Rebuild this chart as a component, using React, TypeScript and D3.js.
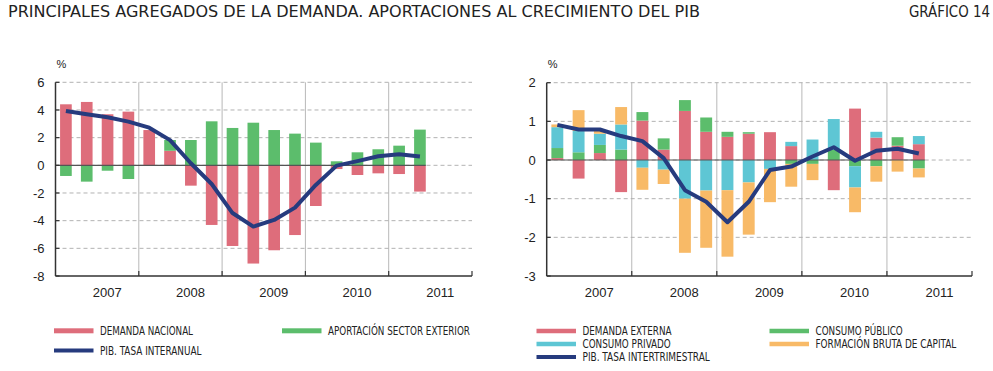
import React from "react";
import * as d3 from "d3";

const quarters = [
  "2007T1","2007T2","2007T3","2007T4",
  "2008T1","2008T2","2008T3","2008T4",
  "2009T1","2009T2","2009T3","2009T4",
  "2010T1","2010T2","2010T3","2010T4",
  "2011T1","2011T2",
];
const years = ["2007", "2008", "2009", "2010", "2011"];

// Left chart
const demandaNacional = [4.41, 4.58, 3.69, 3.88, 2.55, 1.05, -1.47, -4.31, -5.83, -7.1, -6.14, -5.04, -2.94, -0.27, -0.7, -0.58, -0.63, -1.9];
const aportacionExterior = [-0.77, -1.18, -0.39, -0.99, 0, 0.78, 1.83, 3.18, 2.7, 3.08, 2.55, 2.29, 1.64, 0.29, 0.94, 1.16, 1.42, 2.58];
const pibInteranual = [3.93, 3.69, 3.47, 3.16, 2.72, 1.82, 0.15, -1.35, -3.45, -4.43, -3.95, -3.06, -1.42, -0.02, 0.3, 0.65, 0.8, 0.63];
const leftTicks = [6, 4, 2, 0, -2, -4, -6, -8];

// Right chart
const demandaExterna = [0.05, -0.48, 0.18, -0.83, 1.02, 0.27, 1.27, 0.73, 0.6, 0.68, 0.72, 0.36, 0, -0.78, 1.33, 0.58, 0.37, 0.41];
const consumoPublico = [0.26, 0.2, 0.21, 0.27, 0.22, 0.29, 0.28, 0.37, 0.13, 0.04, 0, -0.1, -0.1, 0.26, -0.16, -0.16, 0.22, -0.22];
const consumoPrivado = [0.54, 0.55, 0.29, 0.65, -0.2, -0.25, -1.0, -0.79, -0.78, -0.58, -0.23, 0.11, 0.53, 0.8, -0.55, 0.15, 0, 0.21];
const formacionBruta = [0.07, 0.54, 0.07, 0.45, -0.57, -0.37, -1.4, -1.48, -1.72, -1.35, -0.86, -0.59, -0.42, 0, -0.64, -0.4, -0.3, -0.23];
const pibIntertrimestral = [0.91, 0.79, 0.79, 0.62, 0.49, 0.05, -0.78, -1.08, -1.61, -1.08, -0.26, -0.17, 0.09, 0.33, -0.02, 0.24, 0.29, 0.17];
const rightTicks = [2, 1, 0, -1, -2, -3];

const RED = "#de6d7b";
const GREEN = "#5cbd6c";
const CYAN = "#5ec6d4";
const ORANGE = "#f8ba67";
const NAVY = "#263b7e";
const GRID = "#a9a9a9";
const AXIS = "#333";
const SEP = "#b8b8b8";
const TXT = "#222";
const COND = "'Liberation Sans Narrow', 'DejaVu Sans Condensed', 'Liberation Sans', Arial, sans-serif";
const SANS = "'Liberation Sans', Arial, sans-serif";

type Series = { key: string; color: string; values: number[] };

function Panel(props: {
  x0: number; x1: number; yTop: number; yBot: number;
  domain: [number, number]; ticks: number[];
  series: Series[]; line: number[];
}) {
  const { x0, x1, yTop, yBot, domain, ticks, series, line } = props;
  const x = d3.scaleLinear().domain([0, years.length * 4]).range([x0, x1]);
  const y = d3.scaleLinear().domain(domain).range([yBot, yTop]);
  const slot = x(1) - x(0);
  const bw = slot * 0.56;

  const rows = quarters.map((q, i) => {
    const r: any = { q };
    series.forEach((s) => (r[s.key] = s.values[i]));
    return r;
  });
  const stacked = d3
    .stack<any>()
    .keys(series.map((s) => s.key))
    .offset(d3.stackOffsetDiverging)(rows);

  const lineGen = d3
    .line<number>()
    .x((_, i) => x(i + 0.5))
    .y((d) => y(d))
    .curve(d3.curveLinear);

  const lastRight = x(quarters.length - 0.5) + bw / 2;

  return (
    <g>
      {/* year separators */}
      {d3.range(1, years.length).map((k) => (
        <line key={"sep" + k} x1={x(k * 4)} x2={x(k * 4)} y1={yTop} y2={yBot} stroke={SEP} strokeWidth={1} />
      ))}
      {/* gridlines */}
      {ticks.filter((t) => t !== domain[0]).map((t) => (
        <line key={"g" + t} x1={x0} x2={x1} y1={y(t)} y2={y(t)} stroke={GRID} strokeWidth={0.9} strokeDasharray="4,3" />
      ))}
      {/* bars */}
      {stacked.map((layer, li) =>
        layer.map((d, i) => {
          const top = y(d[1]);
          const bot = y(d[0]);
          const h = Math.abs(bot - top);
          if (h < 0.01) return null;
          return (
            <rect key={li + "-" + i} x={x(i + 0.5) - bw / 2} y={Math.min(top, bot)} width={bw} height={h} fill={series[li].color} />
          );
        })
      )}
      {/* zero line */}
      <line x1={x0} x2={lastRight} y1={y(0)} y2={y(0)} stroke="#555" strokeWidth={1.2} />
      {/* axes */}
      <line x1={x0} x2={x0} y1={yTop} y2={yBot} stroke={AXIS} strokeWidth={1.5} />
      <line x1={x0} x2={x1} y1={yBot} y2={yBot} stroke={AXIS} strokeWidth={1.5} />
      {ticks.map((t) => (
        <line key={"yt" + t} x1={x0} x2={x0 + 4} y1={y(t)} y2={y(t)} stroke={AXIS} strokeWidth={1.2} />
      ))}
      {d3.range(1, years.length + 1).map((k) => (
        <line key={"xt" + k} x1={x(k * 4)} x2={x(k * 4)} y1={yBot - 5} y2={yBot} stroke={AXIS} strokeWidth={1.2} />
      ))}
      {/* y labels */}
      {ticks.map((t) => (
        <text key={"yl" + t} x={x0 - 11} y={y(t)} dy="0.35em" textAnchor="end" fontFamily={SANS} fontSize={13} fill={TXT}>
          {t}
        </text>
      ))}
      <text x={x0 + 1} y={68} fontFamily={SANS} fontSize={11} fill={TXT}>%</text>
      {/* x labels */}
      {years.map((yr, k) => (
        <text key={yr} x={x(k * 4 + 2) + 10} y={yBot + 21} textAnchor="middle" fontFamily={SANS} fontSize={13} fill={TXT}>
          {yr}
        </text>
      ))}
      {/* PIB line */}
      <path d={lineGen(line) || ""} fill="none" stroke={NAVY} strokeWidth={4} strokeLinejoin="round" strokeLinecap="butt" />
    </g>
  );
}

function LegendItem(props: { x: number; y: number; color: string; h: number; label: string; len: number; fs: number }) {
  const { x, y, color, h, label, len, fs } = props;
  return (
    <g>
      <rect x={x} y={y - h / 2} width={39.5} height={h} fill={color} />
      <text x={x + 46} y={y} dy="0.35em" fontFamily={COND} fontSize={fs} fill={TXT} textLength={len} lengthAdjust="spacingAndGlyphs">
        {label}
      </text>
    </g>
  );
}

export default function App() {
  return (
    <svg width={993} height={371} style={{ position: "absolute", left: 0, top: 0, background: "#fff" }} fontFamily={SANS}>
      <rect x={0} y={0} width={993} height={371} fill="#fff" />
      <text x={8} y={17.3} fontFamily={COND} fontSize={15.5} fill={TXT} textLength={692} lengthAdjust="spacingAndGlyphs">
        PRINCIPALES AGREGADOS DE LA DEMANDA. APORTACIONES AL CRECIMIENTO DEL PIB
      </text>
      <text x={909} y={17.3} fontFamily={COND} fontSize={15.5} fill={TXT} textLength={81} lengthAdjust="spacingAndGlyphs">
        GRÁFICO 14
      </text>

      <Panel
        x0={55.5} x1={472} yTop={82.3} yBot={276}
        domain={[-8, 6]} ticks={leftTicks}
        series={[
          { key: "dn", color: RED, values: demandaNacional },
          { key: "ae", color: GREEN, values: aportacionExterior },
        ]}
        line={pibInteranual}
      />
      <Panel
        x0={546.7} x1={972} yTop={82.7} yBot={276}
        domain={[-3, 2]} ticks={rightTicks}
        series={[
          { key: "de", color: RED, values: demandaExterna },
          { key: "cpu", color: GREEN, values: consumoPublico },
          { key: "cpr", color: CYAN, values: consumoPrivado },
          { key: "fbc", color: ORANGE, values: formacionBruta },
        ]}
        line={pibIntertrimestral}
      />

      <LegendItem x={54} y={330.8} color={RED} h={5} label="DEMANDA NACIONAL" len={93} fs={12} />
      <LegendItem x={282} y={330.8} color={GREEN} h={5} label="APORTACIÓN SECTOR EXTERIOR" len={142} fs={12} />
      <LegendItem x={54} y={350.5} color={NAVY} h={4} label="PIB. TASA INTERANUAL" len={101.5} fs={12} />

      <LegendItem x={536.5} y={331} color={RED} h={4.5} label="DEMANDA EXTERNA" len={89} fs={11.5} />
      <LegendItem x={536.5} y={344} color={CYAN} h={4.5} label="CONSUMO PRIVADO" len={88.3} fs={11.5} />
      <LegendItem x={536.5} y={357} color={NAVY} h={4} label="PIB. TASA INTERTRIMESTRAL" len={127.3} fs={11.5} />
      <LegendItem x={769.5} y={331} color={GREEN} h={4.5} label="CONSUMO PÚBLICO" len={87.3} fs={11.5} />
      <LegendItem x={769.5} y={344} color={ORANGE} h={4.5} label="FORMACIÓN BRUTA DE CAPITAL" len={140.7} fs={11.5} />
    </svg>
  );
}
